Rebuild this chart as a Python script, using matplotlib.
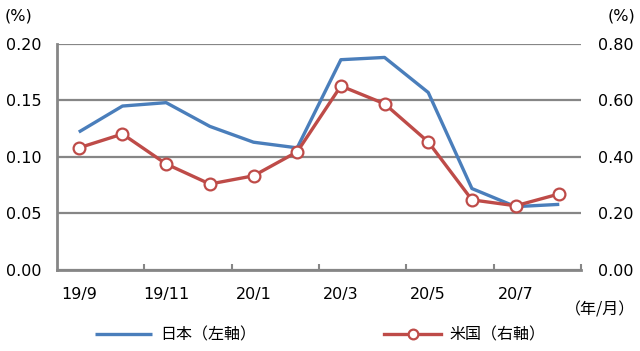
import numpy as np
import matplotlib
matplotlib.use('Agg')
import matplotlib.pyplot as plt

plt.rcParams['font.family'] = ['DejaVu Sans', 'Noto Sans CJK JP']

months = ["19/9", "19/10", "19/11", "19/12", "20/1", "20/2",
          "20/3", "20/4", "20/5", "20/6", "20/7", "20/8"]
japan = [0.122, 0.145, 0.148, 0.127, 0.113, 0.108,
         0.186, 0.188, 0.157, 0.072, 0.056, 0.058]
usa = [0.432, 0.481, 0.375, 0.304, 0.333, 0.418,
       0.651, 0.588, 0.453, 0.248, 0.227, 0.269]
label_japan = "日本（左軸）"
label_usa = "米国（右軸）"

blue = '#4A7EBB'
red = '#BE4B48'
gray = '#868686'
jp_font = ['Noto Sans CJK JP', 'DejaVu Sans']

fig = plt.figure(figsize=(6.4, 3.51), dpi=100)
ax = fig.add_axes([0.089, 0.231, 0.819, 0.644])
ax2 = ax.twinx()

x = np.arange(len(months))
l1, = ax.plot(x, japan, color=blue, linewidth=2.4, solid_capstyle='butt', zorder=3)
l2, = ax2.plot(x, usa, color=red, linewidth=2.4, marker='o', markersize=8.5,
               markerfacecolor='white', markeredgecolor=red, markeredgewidth=1.6, zorder=3)

ax.set_xlim(-0.5, len(months) - 0.5)
ax.set_ylim(0, 0.20)
ax2.set_ylim(0, 0.80)
ax.set_yticks(np.arange(0, 0.201, 0.05))
ax.set_yticklabels(["%.2f" % v for v in np.arange(0, 0.201, 0.05)])
ax2.set_yticks(np.arange(0, 0.801, 0.2))
ax2.set_yticklabels(["%.2f" % v for v in np.arange(0, 0.801, 0.2)])

# labels on odd months, small inward ticks on the category boundaries
ax.set_xticks(x[::2])
ax.set_xticklabels(months[::2])
ax.set_xticks(np.arange(1.5, len(months), 2), minor=True)
ax.tick_params(axis='x', which='major', length=0, pad=12, labelsize=11.5)
ax.tick_params(axis='x', which='minor', direction='in', length=4, width=1.5, color=gray)
ax.tick_params(axis='y', length=0, pad=11, labelsize=11.5)
ax2.tick_params(axis='y', length=0, pad=12, labelsize=11.5)

ax.grid(axis='y', color=gray, linewidth=1.6)
ax.set_axisbelow(True)
for s in ['top', 'right']:
    ax.spines[s].set_visible(False)
    ax2.spines[s].set_visible(False)
ax2.spines['left'].set_visible(False)
ax2.spines['bottom'].set_visible(False)
ax.spines['left'].set_color(gray)
ax.spines['left'].set_linewidth(2)
ax.spines['bottom'].set_color(gray)
ax.spines['bottom'].set_linewidth(2)

fig.text(0.008, 0.955, "(%)", fontsize=11.5, ha='left', va='center')
fig.text(0.992, 0.955, "(%)", fontsize=11.5, ha='right', va='center')
fig.text(0.992, 0.118, "（年/月）", fontsize=11.5, ha='right', va='center', family=jp_font)

leg = fig.legend([l1, l2], [label_japan, label_usa], loc='center', ncol=2,
                 bbox_to_anchor=(0.5, 0.045), frameon=False, handlelength=3.6,
                 columnspacing=8.0, handletextpad=0.5,
                 prop={'family': jp_font, 'size': 11.5})
for h in leg.legend_handles:
    h.set_markersize(7)

fig.savefig("out.png", dpi=100)
